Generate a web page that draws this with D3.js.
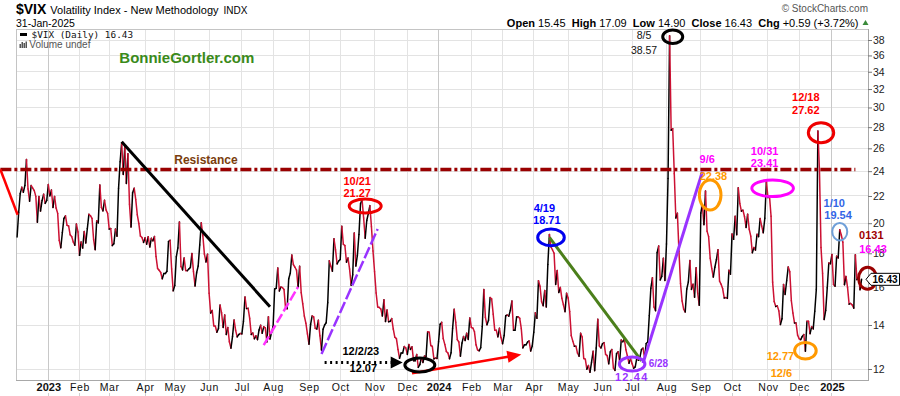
<!DOCTYPE html>
<html><head><meta charset="utf-8">
<script src="https://cdn.jsdelivr.net/npm/d3@7"></script>
<style>
html,body{margin:0;padding:0;background:#fff;overflow:hidden;}
svg{display:block;font-family:"Liberation Sans",Arial,sans-serif;}
</style></head><body>
<svg id="chart" width="900" height="396"></svg>
<script>
// ---------------- DATA (daily closes of $VIX) ----------------
const vix2022 = [["12-02",19.06],["12-05",20.75],["12-06",22.18],["12-07",22.68],["12-08",22.29],["12-09",22.83],["12-12",25.00],["12-13",22.55],["12-14",21.6],["12-15",22.83],["12-16",22.62],["12-19",22.42],["12-20",21.97],["12-21",20.07],["12-22",21.97],["12-23",20.87],["12-27",21.65],["12-28",22.14],["12-29",21.44],["12-30",21.67]];
const vix2023 = [
["01-03",22.90],["01-04",22.01],["01-05",22.46],["01-06",21.13],["01-09",21.97],["01-10",21.09],["01-11",20.70],["01-12",18.83],["01-13",18.35],["01-17",19.36],["01-18",20.34],["01-19",20.52],["01-20",19.85],["01-23",19.81],["01-24",19.20],["01-25",19.08],["01-26",18.73],["01-27",18.51],["01-30",19.94],["01-31",19.40],
["02-01",17.87],["02-02",18.73],["02-03",18.33],["02-06",19.43],["02-07",18.66],["02-08",19.63],["02-09",20.63],["02-10",20.53],["02-13",20.34],["02-14",18.91],["02-15",18.23],["02-16",20.17],["02-17",20.02],["02-21",22.87],["02-22",21.14],["02-23",20.88],["02-24",21.67],["02-27",20.95],["02-28",20.70],
["03-01",19.59],["03-02",19.63],["03-03",18.49],["03-06",18.61],["03-07",19.59],["03-08",19.11],["03-09",22.61],["03-10",24.80],["03-13",26.52],["03-14",23.73],["03-15",26.14],["03-16",22.99],["03-17",25.51],["03-20",21.38],["03-21",19.73],["03-22",22.26],["03-23",22.61],["03-24",21.74],["03-27",20.60],["03-28",19.97],["03-29",19.12],["03-30",19.02],["03-31",18.70],
["04-03",19.00],["04-04",18.58],["04-05",19.08],["04-06",18.40],["04-10",18.97],["04-11",18.80],["04-12",19.09],["04-13",17.80],["04-14",17.07],["04-17",16.96],["04-18",16.83],["04-19",16.46],["04-20",16.77],["04-21",16.77],["04-24",16.90],["04-25",18.76],["04-26",18.84],["04-27",17.03],["04-28",15.78],
["05-01",16.08],["05-02",17.78],["05-03",18.34],["05-04",20.09],["05-05",17.19],["05-08",16.98],["05-09",17.71],["05-10",16.94],["05-11",16.93],["05-12",17.03],["05-15",17.12],["05-16",17.99],["05-17",16.87],["05-18",16.05],["05-19",16.81],["05-22",17.21],["05-23",18.53],["05-24",20.03],["05-25",19.14],["05-26",17.95],["05-30",17.46],["05-31",17.94],
["06-01",15.65],["06-02",14.60],["06-05",14.73],["06-06",13.96],["06-07",13.94],["06-08",13.65],["06-09",13.83],["06-12",15.01],["06-13",14.61],["06-14",13.88],["06-15",14.50],["06-16",13.54],["06-20",13.88],["06-21",13.20],["06-22",12.91],["06-23",13.44],["06-26",14.25],["06-27",13.74],["06-28",13.43],["06-29",13.54],["06-30",13.59],
["07-03",13.57],["07-05",14.18],["07-06",15.44],["07-07",14.83],["07-10",14.84],["07-11",14.33],["07-12",13.54],["07-13",13.61],["07-14",13.34],["07-17",13.48],["07-18",13.30],["07-19",13.76],["07-20",13.99],["07-21",13.60],["07-24",13.91],["07-25",13.86],["07-26",13.19],["07-27",14.41],["07-28",13.33],["07-31",13.63],
["08-01",13.93],["08-02",15.88],["08-03",15.92],["08-04",17.10],["08-07",15.77],["08-08",15.99],["08-09",15.96],["08-10",15.85],["08-11",14.84],["08-14",14.82],["08-15",16.46],["08-16",16.78],["08-17",17.89],["08-18",17.30],["08-21",17.14],["08-22",16.97],["08-23",15.98],["08-24",17.20],["08-25",15.68],["08-28",15.08],["08-29",14.45],["08-30",14.09],["08-31",13.57],
["09-01",13.09],["09-05",14.02],["09-06",14.45],["09-07",14.40],["09-08",13.84],["09-11",13.80],["09-12",14.23],["09-13",13.48],["09-14",12.82],["09-15",13.79],["09-18",14.00],["09-19",14.11],["09-20",15.14],["09-21",17.54],["09-22",17.20],["09-25",16.90],["09-26",18.94],["09-27",18.22],["09-28",17.34],["09-29",17.52],
["10-02",17.61],["10-03",19.78],["10-04",18.58],["10-05",18.49],["10-06",17.45],["10-09",17.70],["10-10",17.03],["10-11",16.09],["10-12",16.69],["10-13",19.32],["10-16",17.21],["10-17",17.88],["10-18",19.22],["10-19",21.40],["10-20",21.71],["10-23",20.37],["10-24",18.97],["10-25",20.19],["10-26",20.68],["10-27",21.27],["10-30",19.75],["10-31",18.14],
["11-01",16.87],["11-02",15.66],["11-03",14.91],["11-06",14.89],["11-07",14.81],["11-08",14.45],["11-09",15.29],["11-10",14.17],["11-13",14.76],["11-14",14.16],["11-15",14.18],["11-16",14.32],["11-17",13.80],["11-20",13.41],["11-21",13.35],["11-22",12.85],["11-24",12.46],["11-27",12.69],["11-28",12.69],["11-29",12.98],["11-30",12.92],
["12-01",12.63],["12-04",13.08],["12-05",12.85],["12-06",12.97],["12-07",12.35],["12-08",12.35],["12-11",12.63],["12-12",12.07],["12-13",12.19],["12-14",12.48],["12-15",12.28],["12-18",12.56],["12-19",12.53],["12-20",13.67],["12-21",13.65],["12-22",13.03],["12-26",12.99],["12-27",12.43],["12-28",12.47],["12-29",12.45]
];
const vix2024 = [
["01-02",13.20],["01-03",14.04],["01-04",14.13],["01-05",13.35],["01-08",13.08],["01-09",12.76],["01-10",12.69],["01-11",12.44],["01-12",12.70],["01-16",13.84],["01-17",14.79],["01-18",14.13],["01-19",13.30],["01-22",13.19],["01-23",12.55],["01-24",13.14],["01-25",13.45],["01-26",13.26],["01-29",13.60],["01-30",13.31],["01-31",14.35],
["02-01",13.88],["02-02",13.85],["02-05",13.67],["02-06",13.06],["02-07",12.83],["02-08",12.79],["02-09",12.93],["02-12",13.93],["02-13",15.85],["02-14",14.38],["02-15",14.01],["02-16",14.24],["02-20",15.42],["02-21",15.34],["02-22",14.54],["02-23",13.75],["02-26",13.74],["02-27",13.43],["02-28",13.84],["02-29",13.40],
["03-01",13.11],["03-04",13.49],["03-05",14.46],["03-06",14.50],["03-07",14.44],["03-08",14.74],["03-11",15.23],["03-12",13.75],["03-13",13.75],["03-14",14.40],["03-15",14.41],["03-18",14.33],["03-19",13.82],["03-20",12.92],["03-21",13.06],["03-22",13.06],["03-25",13.19],["03-26",13.24],["03-27",12.78],["03-28",13.01],
["04-01",13.65],["04-02",14.61],["04-03",14.33],["04-04",16.35],["04-05",16.03],["04-08",15.19],["04-09",14.98],["04-10",15.80],["04-11",14.91],["04-12",17.31],["04-15",19.23],["04-16",18.40],["04-17",18.21],["04-18",18.00],["04-19",16.14],["04-22",16.94],["04-23",15.69],["04-24",15.97],["04-25",15.37],["04-26",15.03],["04-29",14.67],["04-30",15.65],
["05-01",15.39],["05-02",14.68],["05-03",13.49],["05-06",13.23],["05-07",13.00],["05-08",13.00],["05-09",12.69],["05-10",12.55],["05-13",13.60],["05-14",13.42],["05-15",12.45],["05-16",12.42],["05-17",11.99],["05-20",12.15],["05-21",11.86],["05-22",12.29],["05-23",12.77],["05-24",11.93],["05-28",12.92],["05-29",14.28],["05-30",13.01],["05-31",12.92],
["06-03",13.11],["06-04",13.16],["06-05",12.63],["06-06",12.58],["06-07",12.22],["06-10",12.74],["06-11",12.85],["06-12",12.04],["06-13",11.94],["06-14",12.66],["06-17",12.75],["06-18",12.30],["06-20",13.28],["06-21",13.20],["06-24",13.33],["06-25",12.84],["06-26",12.55],["06-27",12.24],["06-28",12.44],
["07-01",12.22],["07-02",12.03],["07-03",12.09],["07-05",12.48],["07-08",12.37],["07-09",12.51],["07-10",12.85],["07-11",12.91],["07-12",12.46],["07-15",13.12],["07-16",13.19],["07-17",14.48],["07-18",15.93],["07-19",16.52],["07-22",14.91],["07-23",14.72],["07-24",18.04],["07-25",18.46],["07-26",16.39],["07-29",16.60],["07-30",17.69],["07-31",16.36],
["08-01",18.59],["08-02",23.39],["08-05",38.57],["08-06",27.71],["08-07",27.85],["08-08",23.79],["08-09",20.37],["08-12",20.71],["08-13",18.12],["08-14",16.19],["08-15",15.23],["08-16",14.80],["08-19",14.65],["08-20",15.88],["08-21",16.27],["08-22",17.55],["08-23",15.86],["08-26",16.15],["08-27",15.43],["08-28",17.11],["08-29",15.65],["08-30",15.00],
["09-03",20.72],["09-04",21.32],["09-05",19.90],["09-06",22.38],["09-09",19.45],["09-10",19.08],["09-11",17.69],["09-12",17.07],["09-13",16.56],["09-16",17.14],["09-17",17.61],["09-18",18.23],["09-19",16.33],["09-20",16.15],["09-23",15.89],["09-24",15.39],["09-25",15.41],["09-26",15.37],["09-27",16.96],["09-30",16.73],
["10-01",19.26],["10-02",18.90],["10-03",20.49],["10-04",19.21],["10-07",22.64],["10-08",21.42],["10-09",20.86],["10-10",20.93],["10-11",20.46],["10-14",19.70],["10-15",20.64],["10-16",19.58],["10-17",19.11],["10-18",18.03],["10-21",18.37],["10-22",18.20],["10-23",19.24],["10-24",19.08],["10-25",20.33],["10-28",19.80],["10-29",19.34],["10-30",20.35],["10-31",23.16],
["11-01",21.88],["11-04",21.98],["11-05",20.49],["11-06",16.27],["11-07",15.20],["11-08",14.94],["11-11",14.97],["11-12",14.71],["11-13",14.02],["11-14",14.31],["11-15",16.14],["11-18",15.58],["11-19",16.35],["11-20",17.16],["11-21",16.87],["11-22",15.24],["11-25",14.60],["11-26",14.10],["11-27",14.10],["11-29",13.51],
["12-02",13.34],["12-03",13.30],["12-04",13.45],["12-05",13.54],["12-06",12.77],["12-09",14.19],["12-10",14.18],["12-11",13.58],["12-12",13.92],["12-13",13.81],["12-16",14.69],["12-17",15.87],["12-18",27.62],["12-19",24.09],["12-20",18.36],["12-23",16.78],["12-24",14.27],["12-26",14.73],["12-27",15.95],["12-30",17.40],["12-31",17.35]
];
const vix2025 = [["01-02",17.93],["01-03",16.13],["01-06",16.04],["01-07",17.82],["01-08",17.70],["01-10",19.54],["01-13",19.19],["01-14",18.71],["01-15",16.12],["01-16",16.60],["01-17",15.97],["01-21",15.06],["01-22",15.10],["01-23",15.02],["01-24",14.85],["01-27",17.90],["01-28",16.41],["01-29",16.56],["01-30",15.84],["01-31",16.43]];

const yTicks = [12,14,16,18,20,22,24,26,28,30,32,34,36,38];
const monthNames = ["Jan","Feb","Mar","Apr","May","Jun","Jul","Aug","Sep","Oct","Nov","Dec"];
const resistanceLevel = 24.15;
const lastClose = 16.43;

// ---------------- ANNOTATIONS (anchored in data space) ----------------
const trendLines = [
  {from:["2022-11-17",resistanceLevel], to:["2022-12-03",20.6], color:"#ff0000", w:2.5},
  {from:["2023-03-13",26.6], to:["2023-07-28",14.93], color:"#000000", w:3},
  {from:["2023-07-24",13.05], to:["2023-08-23",16.0], color:"#ff33ff", w:2.5, dash:"10,3"},
  {from:["2023-09-14",12.65], to:["2023-11-03",19.6], color:"#9933ff", w:2.5, dash:"12,3"},
  {from:["2024-04-15",19.03], to:["2024-07-10",12.35], color:"#4b7f1b", w:3},
  {from:["2024-07-11",12.25], to:["2024-09-04",23.96], color:"#9933ff", w:3},
  {from:["2023-09-18",12.28], to:["2023-11-28",12.28], color:"#000000", w:3, dash:"2,3.5", arrow:[12,12]},
  {from:["2023-12-06",11.82], to:["2024-03-19",12.63], color:"#ff0000", w:2.5, arrow:[14,12]}
];
const ellipses = [
  {date:"2023-10-24", value:21.24, rx:16, ry:7, color:"#ee0000"},
  {date:"2023-12-13", value:12.17, rx:15, ry:7, color:"#000000"},
  {date:"2024-04-15", value:19.03, rx:13.3, ry:8.3, color:"#0000ee", dx:1.6},
  {date:"2024-07-01", value:12.21, rx:12.8, ry:7, color:"#9933ff"},
  {date:"2024-08-07", value:38.44, rx:10, ry:6.7, color:"#000000"},
  {date:"2024-09-11", value:22.07, rx:10.8, ry:15, color:"#ff9900"},
  {date:"2024-11-06", value:22.6, rx:20.8, ry:8.3, color:"#ff00ff"},
  {date:"2024-12-20", value:27.46, rx:12.7, ry:10, color:"#ee0000"},
  {date:"2024-12-06", value:12.79, rx:10.8, ry:8.3, color:"#ff9900"},
  {date:"2025-01-10", value:19.41, rx:7.5, ry:8.8, color:"#6f9fd8", w:2},
  {date:"2025-01-31", value:lastClose, rx:9, ry:11, color:"#990000", dx:6, dy:-1}
];
const notes = [
  {t:"Resistance", date:"2023-05-30", value:resistanceLevel, dx:0, dy:-5, color:"#7a3d0c", size:12},
  {t:"10/21", date:"2023-10-24", value:21.24, dx:-8, dy:-21, color:"#ff0000"},
  {t:"21.27", date:"2023-10-24", value:21.24, dx:-8, dy:-9, color:"#ff0000"},
  {t:"12/2/23", date:"2023-12-13", value:12.17, dx:-59, dy:-10, color:"#000000"},
  {t:"12.07", date:"2023-12-13", value:12.17, dx:-56.5, dy:7.5, color:"#000000"},
  {t:"4/19", date:"2024-04-15", value:19.03, dx:-5, dy:-25.4, color:"#0000ff"},
  {t:"18.71", date:"2024-04-15", value:19.03, dx:-2.6, dy:-13.4, color:"#0000ff"},
  {t:"6/28", date:"2024-07-01", value:12.21, dx:16.6, dy:3, color:"#9933ff", anchor:"start", size:10},
  {t:"12.44", date:"2024-07-01", value:12.21, dx:-0.4, dy:17, color:"#9933ff", spacing:1.2},
  {t:"8/5", date:"2024-08-07", value:38.44, dx:-28.7, dy:2.3, color:"#111111", weight:"normal", size:10.5},
  {t:"38.57", date:"2024-08-07", value:38.44, dx:-28.7, dy:17.3, color:"#111111", weight:"normal", size:10.5},
  {t:"9/6", date:"2024-09-11", value:22.07, dx:-3, dy:-32, color:"#ff00ff"},
  {t:"22.38", date:"2024-09-11", value:22.07, dx:3.3, dy:-15, color:"#ff9900"},
  {t:"10/31", date:"2024-11-06", value:22.6, dx:-8, dy:-33.3, color:"#ff00ff"},
  {t:"23.41", date:"2024-11-06", value:22.6, dx:-8, dy:-21, color:"#ff00ff"},
  {t:"12/18", date:"2024-12-20", value:27.46, dx:-15.2, dy:-31.8, color:"#ff0000"},
  {t:"27.62", date:"2024-12-20", value:27.46, dx:-15.2, dy:-18.8, color:"#ff0000"},
  {t:"12.77", date:"2024-12-06", value:12.79, dx:-25, dy:9.2, color:"#ff9900"},
  {t:"12/6", date:"2024-12-06", value:12.79, dx:-24, dy:26, color:"#ff9900"},
  {t:"1/10", date:"2025-01-10", value:19.41, dx:-5.5, dy:-25, color:"#3366e6"},
  {t:"19.54", date:"2025-01-10", value:19.41, dx:-1.7, dy:-12.5, color:"#3366e6"},
  {t:"0131", date:"2025-01-31", value:lastClose, dx:9.7, dy:-40.3, color:"#a00000"},
  {t:"16.43", date:"2025-01-31", value:lastClose, dx:11.4, dy:-26.8, color:"#ff00ff"}
];

// ---------------- BUILD ----------------
const parse = d3.utcParse("%Y-%m-%d");
const series = [];
[[2022,vix2022],[2023,vix2023],[2024,vix2024],[2025,vix2025]].forEach(([yr,arr])=>{
  arr.forEach(d=>series.push({date:parse(yr+"-"+d[0]), v:d[1]}));
});
series.forEach((d,i)=>d.i=i);
const n = series.length;
const dates = series.map(d=>+d.date);

const plot = {left:16, right:868, top:29, bottom:380.7};
const x = d3.scaleLinear().domain([-0.7, n-1+4.1]).range([plot.left, plot.right]);
const y = d3.scaleLog().domain([12,38]).range([369,40]);

// trading-day index of a calendar date (fractional between sessions, extrapolated outside)
const DAY = 864e5;
function idxOf(s){
  const t = +parse(s);
  const i = d3.bisectLeft(dates, t);
  if (i < n && dates[i] === t) return i;
  if (i === 0) return (t - dates[0]) / DAY * 5/7;
  if (i >= n) return n-1 + (t - dates[n-1]) / DAY * 5/7;
  return i-1 + (t - dates[i-1])/(dates[i]-dates[i-1]);
}
const X = s => x(idxOf(s));

const svg = d3.select("#chart");
svg.append("rect").attr("width",900).attr("height",396).attr("fill","#fff");

// grid
const grid = svg.append("g").attr("shape-rendering","crispEdges");
grid.selectAll("line.h").data(yTicks).join("line")
  .attr("x1",plot.left).attr("x2",plot.right)
  .attr("y1",d=>y(d)).attr("y2",d=>y(d))
  .attr("stroke","#e3e3e3");
const monthStarts = series.filter((d,i)=> i>0 && d.date.getUTCMonth() !== series[i-1].date.getUTCMonth());
grid.selectAll("line.v").data(monthStarts).join("line")
  .attr("x1",d=>x(d.i)).attr("x2",d=>x(d.i))
  .attr("y1",plot.top).attr("y2",plot.bottom)
  .attr("stroke",d=>d.date.getUTCMonth()===0 ? "#c8c8c8" : "#e3e3e3");
// frame
grid.append("line").attr("x1",plot.left).attr("x2",plot.right).attr("y1",plot.top).attr("y2",plot.top).attr("stroke","#c4c4c4");
grid.append("line").attr("x1",plot.left).attr("x2",plot.left).attr("y1",plot.top).attr("y2",plot.bottom).attr("stroke","#c4c4c4");
grid.append("line").attr("x1",plot.left).attr("x2",plot.right).attr("y1",plot.bottom).attr("y2",plot.bottom).attr("stroke","#a8a8a8");
grid.append("line").attr("x1",plot.right).attr("x2",plot.right).attr("y1",plot.top).attr("y2",plot.bottom).attr("stroke","#a8a8a8");

// axes
const yAxis = svg.append("g").attr("transform",`translate(${plot.right},0)`)
  .call(d3.axisRight(y).tickValues(yTicks).tickFormat(d3.format("d")).tickSize(4).tickPadding(1));
yAxis.select(".domain").remove();
yAxis.selectAll("line").attr("stroke","#777");
yAxis.selectAll("text").attr("fill","#222").style("font-size","10.5px").style("font-family","'Liberation Sans',Arial,sans-serif");

const xAxis = svg.append("g").attr("transform",`translate(0,${plot.bottom})`)
  .call(d3.axisBottom(x).tickValues(monthStarts.map(d=>d.i))
    .tickFormat(i=>{const dt=series[i].date; const m=dt.getUTCMonth(); return m===0 ? String(dt.getUTCFullYear()) : monthNames[m];})
    .tickSize(0).tickPadding(3));
xAxis.select(".domain").remove();
xAxis.selectAll("text")
  .attr("fill","#111")
  .style("font-family","'Liberation Sans',Arial,sans-serif")
  .style("font-size",i=>series[i].date.getUTCMonth()===0 ? "11px" : "10.5px")
  .style("font-weight",i=>series[i].date.getUTCMonth()===0 ? "bold" : "normal")
  .style("letter-spacing",i=>series[i].date.getUTCMonth()===0 ? "0px" : "0.6px");
svg.append("g").selectAll("line").data(monthStarts).join("line")
  .attr("x1",d=>x(d.i)).attr("x2",d=>x(d.i)).attr("y1",392.5).attr("y2",396)
  .attr("stroke","#cfcfcf").attr("shape-rendering","crispEdges");

// price line: black on up days, crimson on down days
svg.append("clipPath").attr("id","clip").append("rect")
  .attr("x",plot.left).attr("y",plot.top-12).attr("width",plot.right-plot.left).attr("height",plot.bottom-plot.top+12);
const line = d3.line().x(d=>x(d.i)).y(d=>y(d.v));
svg.append("g").attr("clip-path","url(#clip)")
  .selectAll("path").data(d3.pairs(series)).join("path")
  .attr("d",p=>line(p))
  .attr("fill","none")
  .attr("stroke",p=>p[1].v >= p[0].v ? "#000000" : "#cc1133")
  .attr("stroke-width",1.5)
  .attr("stroke-linecap","round");

// resistance
svg.append("line")
  .attr("x1",X("2022-11-17")).attr("x2",X("2025-01-27"))
  .attr("y1",y(resistanceLevel)).attr("y2",y(resistanceLevel))
  .attr("stroke","#990000").attr("stroke-width",3.5).attr("stroke-dasharray","11,3,3,3");

// trend lines & arrows
const ann = svg.append("g");
trendLines.forEach(t=>{
  const x1=X(t.from[0]), y1=y(t.from[1]), x2=X(t.to[0]), y2=y(t.to[1]);
  let ex=x2, ey=y2;
  if (t.arrow){
    const a=Math.atan2(y2-y1,x2-x1), len=t.arrow[0], wid=t.arrow[1];
    ex = x2 - (len-2)*Math.cos(a); ey = y2 - (len-2)*Math.sin(a);
    const bx=x2-len*Math.cos(a), by=y2-len*Math.sin(a);
    const px=-Math.sin(a)*wid/2, py=Math.cos(a)*wid/2;
    ann.append("path").attr("d",`M${x2},${y2}L${bx+px},${by+py}L${bx-px},${by-py}Z`).attr("fill",t.color);
  }
  ann.append("line").attr("x1",x1).attr("y1",y1).attr("x2",ex).attr("y2",ey)
    .attr("stroke",t.color).attr("stroke-width",t.w)
    .attr("stroke-dasharray",t.dash||null);
});
ellipses.forEach(e=>{
  ann.append("ellipse")
    .attr("cx",X(e.date)+(e.dx||0)).attr("cy",y(e.value)+(e.dy||0))
    .attr("rx",e.rx).attr("ry",e.ry)
    .attr("fill","none").attr("stroke",e.color).attr("stroke-width",e.w||3);
});

// y-axis last value tag
const yl = y(lastClose);
svg.append("path")
  .attr("d",`M866,${yl}L871,${yl-6}L899.5,${yl-6}L899.5,${yl+6}L871,${yl+6}Z`)
  .attr("fill","#fff").attr("stroke","#000").attr("stroke-width",1);
svg.append("text").attr("x",872.5).attr("y",yl+3.8).text(lastClose.toFixed(2))
  .attr("font-size","10px").attr("font-weight","bold").attr("fill","#000");

notes.forEach(d=>{
  ann.append("text")
    .attr("x",X(d.date)+d.dx).attr("y",y(d.value)+d.dy)
    .attr("text-anchor",d.anchor||"middle")
    .attr("fill",d.color)
    .attr("font-size",(d.size||11)+"px")
    .attr("font-weight",d.weight||"bold")
    .attr("letter-spacing",d.spacing?d.spacing+"px":null)
    .text(d.t);
});

// ---------------- HEADER / LEGEND ----------------
const hdr = svg.append("g");
const t1 = hdr.append("text").attr("x",16).attr("y",14).attr("fill","#000");
t1.append("tspan").attr("font-size","14px").attr("font-weight","bold").text("$VIX");
t1.append("tspan").attr("dx",4).attr("font-size","11px").text("Volatility Index - New Methodology");
t1.append("tspan").attr("dx",5).attr("font-size","10px").text("INDX");
hdr.append("text").attr("x",16).attr("y",26.5).attr("font-size","10.5px").attr("fill","#000").text("31-Jan-2025");

hdr.append("text").attr("x",868).attr("y",12).attr("text-anchor","end")
  .attr("font-size","10px").attr("fill","#555").text("\u00A9 StockCharts.com");
const ohlc = hdr.append("text").attr("x",858.5).attr("y",26.5).attr("text-anchor","end")
  .attr("font-size","11px").attr("fill","#000").style("white-space","pre");
[["Open"," 15.45  "],["High"," 17.09  "],["Low"," 14.90  "],["Close"," 16.43  "],["Chg"," +0.59 (+3.72%)"]].forEach(p=>{
  ohlc.append("tspan").attr("font-weight","bold").text(p[0]);
  ohlc.append("tspan").text(p[1]);
});
hdr.append("path").attr("d","M862.5,25L865.5,20L868.5,25Z").attr("fill","#3a8a3a");

// legend inside plot
hdr.append("line").attr("x1",20).attr("x2",27).attr("y1",34.5).attr("y2",34.5).attr("stroke","#000").attr("stroke-width",3);
hdr.append("text").attr("x",31.5).attr("y",38).attr("font-family","'DejaVu Sans Mono',monospace")
  .attr("font-size","9.4px").attr("fill","#111").text("$VIX (Daily) 16.43");
[[19.5,4],[21.5,6],[23.5,5],[25.5,6.5]].forEach(b=>{
  hdr.append("rect").attr("x",b[0]).attr("y",48-b[1]).attr("width",1.5).attr("height",b[1]).attr("fill","#555");
});
hdr.append("text").attr("x",29.3).attr("y",48.3).attr("font-size","10px").attr("fill","#555").text("Volume undef");
hdr.append("text").attr("x",119.3).attr("y",63.3).attr("font-size","15px").attr("font-weight","bold")
  .attr("fill","#3a8a1a").text("BonnieGortler.com");
</script>
</body></html>
